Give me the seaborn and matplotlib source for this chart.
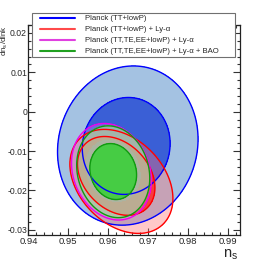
import numpy as np
import matplotlib
matplotlib.use("Agg")
import matplotlib.pyplot as plt
import seaborn as sns
from matplotlib.lines import Line2D
from matplotlib.legend_handler import HandlerLine2D
from matplotlib.ticker import MultipleLocator, FuncFormatter

# Likelihood contours, one entry per data combination
labels = ["Planck (TT+lowP)",
          "Planck (TT+lowP) + Ly-\u03b1",
          "Planck (TT,TE,EE+lowP) + Ly-\u03b1",
          "Planck (TT,TE,EE+lowP) + Ly-\u03b1 + BAO"]

# 68% contours: centre (ns, dns/dlnk), half extent in ns and in dns/dlnk, correlation
cx_68 = [0.9645, 0.9620, 0.9612, 0.96125]
cy_68 = [-0.0087, -0.0163, -0.0150, -0.0152]
sx_68 = [0.0110, 0.0097, 0.0068, 0.00585]
sy_68 = [0.0123, 0.0100, 0.0078, 0.0071]
rho_68 = [0.05, -0.30, -0.15, -0.12]

# 95% contours
cx_95 = [0.9649, 0.9633, 0.9608, 0.96125]
cy_95 = [-0.0086, -0.0177, -0.01525, -0.01525]
sx_95 = [0.0176, 0.0129, 0.0100, 0.00915]
sy_95 = [0.0202, 0.0132, 0.01225, 0.01165]
rho_95 = [0.08, -0.33, -0.18, -0.14]

x_ticks = [0.94, 0.95, 0.96, 0.97, 0.98, 0.99]
y_ticks = [-0.03, -0.02, -0.01, 0.0, 0.01, 0.02]

# colours
fill_95 = ["#a4c2e2", "#ff7070", "#d080e0", "#a6d8a0"]
alpha_95 = [1.0, 0.38, 0.35, 0.68]
fill_68 = ["#3a5fd6", "#ff2a2a", "#9c7cc0", "#46cc44"]
alpha_68 = [1.0, 0.85, 0.6, 1.0]
edges_95 = ["#0000ff", "#ff0000", "#ee00ee", "#109a10"]
edges_68 = ["#0000ff", "#ff0000", "none", "#109a10"]
leg_cols = ["#0000ff", "#ff4a4a", "#e040e0", "#20a020"]

sns.set_style("ticks")
plt.rcParams['font.family'] = ['Liberation Sans', 'DejaVu Sans']
plt.rcParams['axes.unicode_minus'] = False
plt.rcParams['mathtext.fontset'] = 'custom'
plt.rcParams['mathtext.rm'] = 'Liberation Sans'

fig = plt.figure(figsize=(2.73, 2.63), dpi=100)
ax = fig.add_axes([0.104, 0.1065, 0.775, 0.7985])

xg = np.linspace(0.94, 0.993, 500)
yg = np.linspace(-0.0313, 0.022, 500)
X, Y = np.meshgrid(xg, yg)


def dist(cx, cy, sx, sy, r):
    u = (X - cx) / sx
    v = (Y - cy) / sy
    return (u**2 - 2*r*u*v + v**2) / (1 - r**2)


for i in range(len(labels)):
    d95 = dist(cx_95[i], cy_95[i], sx_95[i], sy_95[i], rho_95[i])
    ax.contourf(X, Y, d95, levels=[0, 1], colors=[fill_95[i]], alpha=alpha_95[i])
    ax.contour(X, Y, d95, levels=[1], colors=[edges_95[i]], linewidths=1.0)
    d68 = dist(cx_68[i], cy_68[i], sx_68[i], sy_68[i], rho_68[i])
    ax.contourf(X, Y, d68, levels=[0, 1], colors=[fill_68[i]], alpha=alpha_68[i])
    if edges_68[i] != "none":
        ax.contour(X, Y, d68, levels=[1], colors=[edges_68[i]], linewidths=1.0)

ax.set_xlim(0.94, 0.993)
ax.set_ylim(-0.0313, 0.022)


def fmt(v, p):
    if abs(v) < 1e-9:
        return "0"
    return "%g" % round(v, 3)


ax.set_xticks(x_ticks)
ax.set_yticks(y_ticks)
ax.xaxis.set_major_formatter(FuncFormatter(fmt))
ax.yaxis.set_major_formatter(FuncFormatter(fmt))
ax.xaxis.set_minor_locator(MultipleLocator(0.002))
ax.yaxis.set_minor_locator(MultipleLocator(0.002))
ax.tick_params(which='both', direction='in', top=True, right=True, width=0.8,
               pad=1.5, color='#333333')
ax.tick_params(axis='x', labelsize=6.8)
ax.tick_params(axis='y', labelsize=6.2, pad=1.0)
ax.tick_params(which='major', length=5)
ax.tick_params(which='minor', length=2.5)
for s in ax.spines.values():
    s.set_linewidth(0.9)
    s.set_color('#222222')

ax.set_xlabel("n$_\\mathregular{s}$", fontsize=10.5, loc='right')
ax.xaxis.set_label_coords(0.99, -0.058)
ax.set_ylabel("dn$_\\mathregular{s}$/dlnk", fontsize=5.8, loc='top')
ax.yaxis.set_label_coords(-0.086, 1.0)

handles = [Line2D([], [], color=c, lw=1.5) for c in leg_cols]
leg = ax.legend(handles, labels, loc='upper left', mode='expand',
                bbox_to_anchor=(0.0165, 0.843, 0.96, 0.214), fontsize=5.6,
                borderpad=0.25, labelspacing=0.45, handlelength=5.3,
                handletextpad=1.3, fancybox=False, framealpha=1.0,
                edgecolor='#707070', borderaxespad=0,
                handler_map={Line2D: HandlerLine2D(xpad=0.77)})
leg.get_frame().set_linewidth(0.8)

fig.savefig("out.png", dpi=100)
